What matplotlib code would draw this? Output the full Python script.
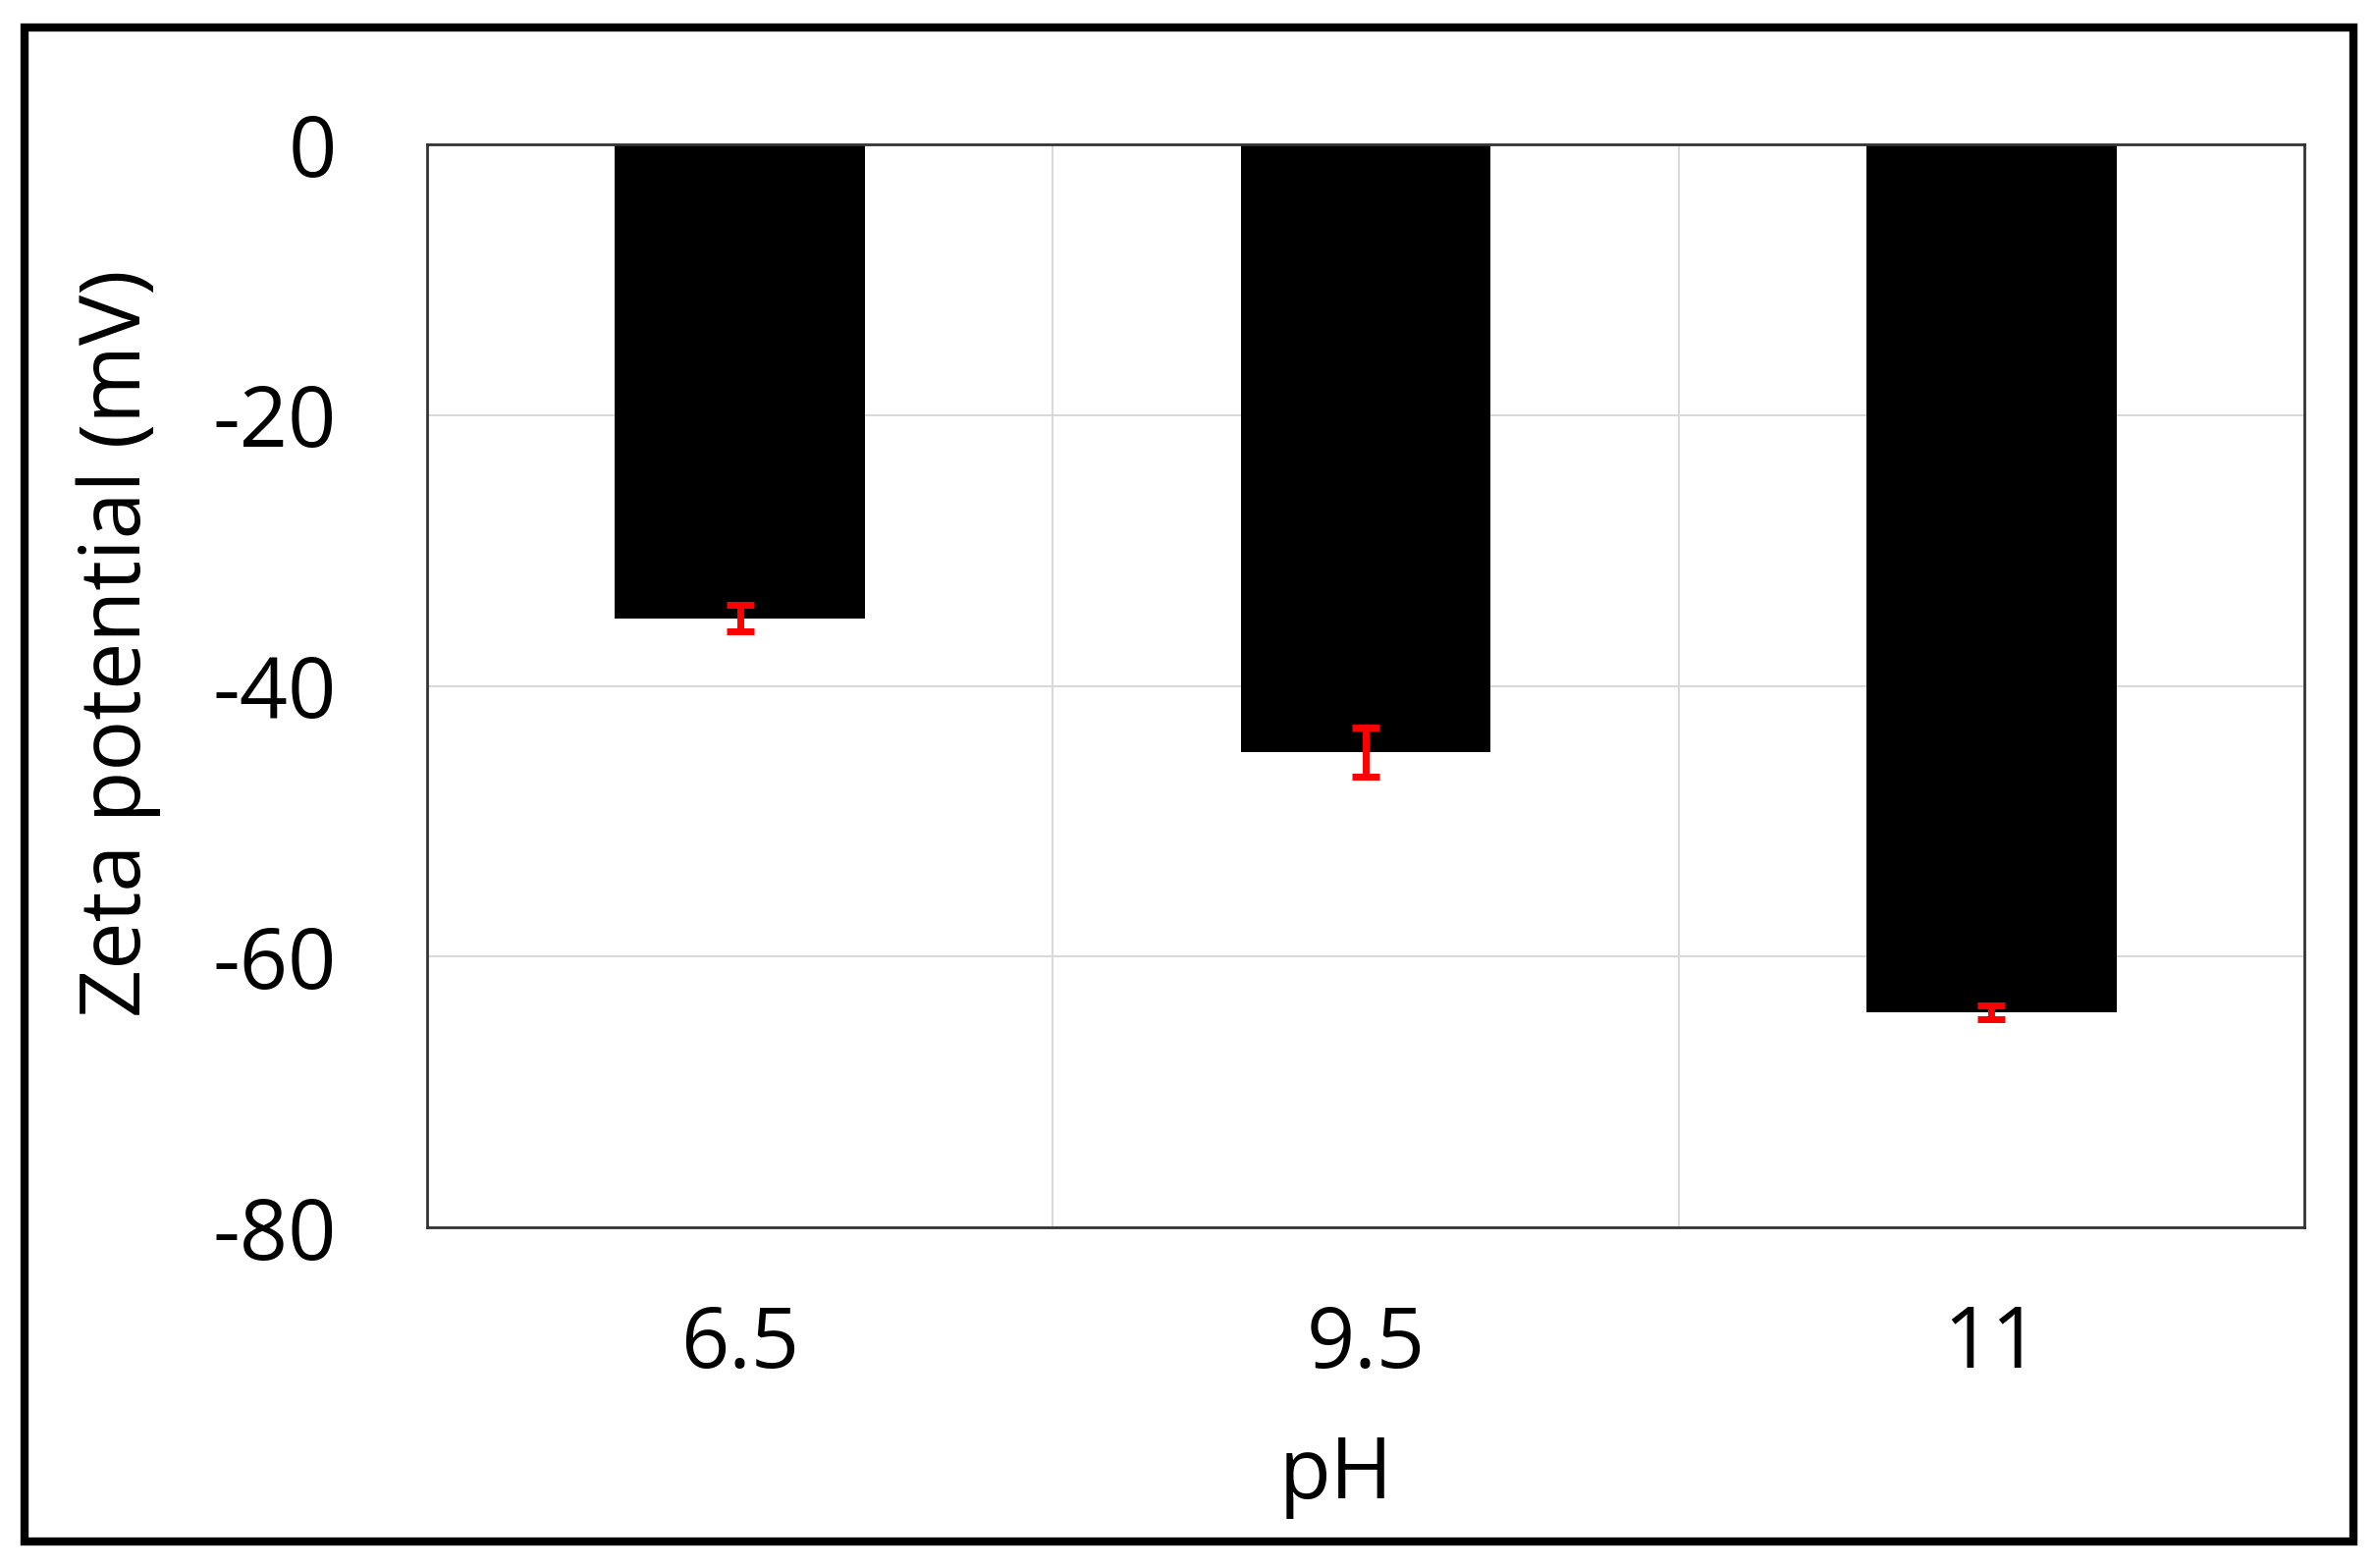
import matplotlib
matplotlib.use("Agg")
import matplotlib.pyplot as plt
from matplotlib.patches import Rectangle

# values
ph_labels = ["6.5", "9.5", "11"]
zeta_mean = [-35.0, -44.9, -64.1]
zeta_err = [1.0, 1.8, 0.5]
y_ticks = [0, -20, -40, -60, -80]

plt.rcParams["font.family"] = ["Open Sans", "DejaVu Sans"]

fig = plt.figure(figsize=(24.2, 15.97), dpi=100)
ax = fig.add_axes([435 / 2420, 1 - 1250 / 1597, (2347 - 435) / 2420, (1250 - 147) / 1597])

pos = list(range(len(ph_labels)))
ax.bar(pos, zeta_mean, width=0.4, color="black", zorder=2)
ax.errorbar(pos, zeta_mean, yerr=zeta_err, fmt="none", ecolor="red",
            elinewidth=5, capsize=10, capthick=5, zorder=3)

ax.set_xlim(-0.5, len(ph_labels) - 0.5)
ax.set_ylim(-80, 0)
ax.set_yticks(y_ticks)
ax.set_yticklabels([str(v) for v in y_ticks])
ax.set_xticks(pos)
ax.set_xticklabels(ph_labels)

# excel-like gridlines between categories
ax.set_xticks([0.5, 1.5], minor=True)
ax.grid(which="minor", axis="x", color="#d9d9d9", linewidth=1.5, zorder=0)
ax.grid(which="major", axis="y", color="#d9d9d9", linewidth=1.5, zorder=0)
ax.tick_params(which="both", length=0)
ax.tick_params(axis="y", labelsize=62, pad=66)
ax.tick_params(axis="x", labelsize=62, pad=56)

for s in ax.spines.values():
    s.set_color("#333333")
    s.set_linewidth(2)

ax.set_xlabel("pH", fontsize=62, labelpad=33, x=0.484)
ax.set_ylabel("Zeta potential (mV)", fontsize=62, labelpad=38, y=0.539)

# outer frame round the whole figure
fig.patches.append(Rectangle((25 / 2420, 1 - 1570 / 1597), (2397 - 25) / 2420, (1570 - 28) / 1597,
                             transform=fig.transFigure, fill=False, edgecolor="black", linewidth=6))

fig.savefig("out.png", dpi=100)
